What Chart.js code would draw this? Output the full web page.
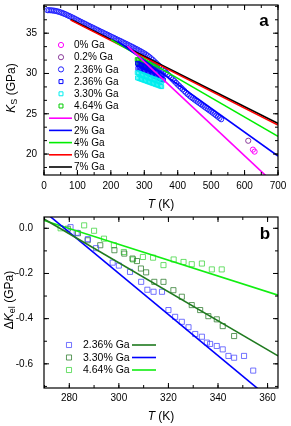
<!DOCTYPE html>
<html>
<head>
<meta charset="utf-8">
<script src="https://cdn.jsdelivr.net/npm/chart.js@4.4.0/dist/chart.umd.min.js"></script>
<style>
  html, body { margin: 0; padding: 0; background: #fff; }
  #wrap { position: relative; width: 291px; height: 426px; }
  canvas { position: absolute; left: 0; }
  #cA { top: 0; }
  #cB { top: 212px; }
</style>
</head>
<body>
<div id="wrap">
  <canvas id="cA" width="291" height="212"></canvas>
  <canvas id="cB" width="291" height="214"></canvas>
</div>
<script>
// ---- panel a : K_S vs T ----
const xTicksA = [0, 100, 200, 300, 400, 500, 600, 700];
const yTicksA = [20, 25, 30, 35];

const labelsA = ['0% Ga', '0.2% Ga', '2.36% Ga', '2.36% Ga', '3.30% Ga', '4.64% Ga',
                 '0% Ga', '2% Ga', '4% Ga', '6% Ga', '7% Ga'];

// 2.36% Ga, circles
const c236T = [10,15,20,25,30,35,40,45,50,55,60,65,70,75,80,85,90,95,100,
  105,110,115,120,125,130,135,140,145,150,155,160,165,170,175,180,185,190,195,200,
  205,210,215,220,225,230,235,240,245,250,255,260,265,270,275,280,285,290,295,300,
  305,310,315,320,325,330,335,340,345,350,355,360,365,370,375,380,385,390,395,400,
  405,410,415,420,425,430,435,440,445,450,455,460,465,470,475,480,485,490,495,500,
  505,510,515,520,525,530];
const c236K = [37.86,37.85,37.85,37.82,37.80,37.76,37.71,37.66,37.58,37.51,37.42,37.34,37.24,37.14,37.05,36.94,36.84,36.73,36.63,
  36.52,36.42,36.31,36.21,36.11,36.00,35.90,35.80,35.70,35.60,35.49,35.40,35.29,35.19,35.10,34.99,34.89,34.80,34.69,34.59,
  34.49,34.40,34.29,34.19,34.09,34.00,33.89,33.79,33.69,33.59,33.48,33.38,33.28,33.17,33.06,32.96,32.84,32.73,32.61,32.49,
  32.36,32.21,32.05,31.88,31.70,31.50,31.31,31.12,30.92,30.72,30.52,30.31,30.10,29.89,29.68,29.47,29.26,29.05,28.84,28.63,
  28.43,28.23,28.03,27.83,27.62,27.43,27.25,27.08,26.92,26.77,26.62,26.47,26.32,26.17,26.02,25.87,25.72,25.57,25.42,25.27,
  25.12,24.96,24.80,24.64,24.48,24.32];

// 0% and 0.2% Ga, circles
const c0T = [625, 630];
const c0K = [20.55, 20.30];
const c02T = [611];
const c02K = [21.65];

// 2.36% Ga, squares
const s236T = [280,284,288,292,296,300,304,308,312,316,320,324,328,332,336,340,344,348,352,356,
  281,285,289,293,297,301,305,309,313,317,321,325,329,333,337,341,345,349,353,357];
const s236K = [31.25,31.17,31.10,31.02,30.94,30.87,30.80,30.71,30.64,30.56,30.49,30.41,30.33,30.26,30.18,30.10,30.03,29.95,29.88,29.80,
  30.62,30.55,30.47,30.40,30.32,30.25,30.17,30.10,30.02,29.95,29.87,29.80,29.72,29.65,29.57,29.50,29.42,29.35,29.27,29.20];

// 3.30% Ga, squares
const s330T = [279,283,287,291,295,299,303,307,311,315,319,323,327,331,335,339,343,347,351,
  280,284,288,292,296,300,304,308,312,316,320,324,328,332,336,340,344,348,352];
const s330K = [30.10,30.04,29.97,29.91,29.85,29.78,29.72,29.66,29.59,29.53,29.46,29.40,29.34,29.27,29.21,29.15,29.08,29.02,28.95,
  29.45,29.39,29.33,29.27,29.21,29.15,29.09,29.03,28.97,28.91,28.85,28.79,28.73,28.67,28.61,28.55,28.49,28.43,28.37];

// 4.64% Ga, squares
const s464T = [279,283,287,291,295,299,303,307,311,315,319,323,327,331,335,339,
  281,285,289,293,297,301,305,309,313,317,321,325,329];
const s464K = [31.72,31.66,31.60,31.53,31.47,31.41,31.34,31.28,31.22,31.15,31.09,31.03,30.96,30.90,30.84,30.77,
  31.30,31.24,31.18,31.11,31.05,30.99,30.92,30.86,30.80,30.73,30.67,30.61,30.54];

// calculated lines (end points)
const fit0T = [250, 700], fit0K = [33.40, 15.90];
const fit2T = [220, 700], fit2K = [33.99, 19.75];
const fit4T = [200, 700], fit4K = [34.20, 22.20];
const fit6T = [80, 700],  fit6K = [36.62, 23.60];
const fit7T = [80, 700],  fit7K = [36.69, 23.80];

// ---- panel b : dK_el vs T ----
const xTicksB = [280, 300, 320, 340, 360];
const yTicksB = [0, -0.2, -0.4, -0.6];
const labelsB = ['2.36% Ga', '3.30% Ga', '4.64% Ga'];

const b236T = [280.5,283,287.5,290.8,297.5,300,304.5,309,311.5,314,317.4,320,322.7,325.4,328.1,330.8,333.5,335.5,336.8,339.5,341.9,344.2,346.5,350.5,354.2];
const b236K = [0.005,-0.02,-0.048,-0.088,-0.152,-0.165,-0.193,-0.237,-0.272,-0.281,-0.281,-0.362,-0.392,-0.414,-0.438,-0.468,-0.480,-0.506,-0.512,-0.521,-0.536,-0.565,-0.573,-0.565,-0.630];
const b330T = [279.4,283.5,287.4,292.5,298.2,302.2,305.5,307.3,308.9,311,314.3,318,322,325.4,329.4,332.8,336.1,339.5,341.9,346.5];
const b330K = [-0.002,-0.022,-0.053,-0.075,-0.097,-0.112,-0.134,-0.145,-0.178,-0.195,-0.237,-0.237,-0.274,-0.303,-0.340,-0.362,-0.389,-0.403,-0.433,-0.477];
const b464T = [276.5,286,290,294,298,302,305.7,309.7,313.8,318,322.1,326.1,329.4,333.5,337.5,341.5];
const b464K = [0.0,0.013,-0.011,-0.046,-0.075,-0.105,-0.138,-0.127,-0.130,-0.163,-0.138,-0.149,-0.159,-0.156,-0.182,-0.182];

const fitDkT = [269.8, 364.2], fitDkK = [0.041, -0.565];
const fitBlT = [269.8, 364.2], fitBlK = [0.075, -0.784];
const fitLgT = [269.8, 364.2], fitLgK = [0.035, -0.296];

// ---------------------------------------------------------------
const FONT = '"Liberation Sans", Arial, Helvetica, sans-serif';
Chart.defaults.font.family = FONT;
Chart.defaults.color = '#000';

const pts = (T, K) => T.map((t, i) => ({ x: t, y: K[i] }));

const marks = (label, T, K, style, r, color, order) => ({
  label, data: pts(T, K), pointStyle: style, pointRadius: r,
  pointBorderColor: color, pointBackgroundColor: 'rgba(0,0,0,0)', pointBorderWidth: 1,
  borderColor: color, showLine: false, order
});

const fit = (label, T, K, color, w) => ({
  label, data: pts(T, K), borderColor: color, borderWidth: w,
  pointRadius: 0, showLine: true, order: 0
});

function drawMark(ctx, style, x, y, r, color) {
  ctx.strokeStyle = color;
  ctx.lineWidth = 1;
  ctx.beginPath();
  if (style === 'rect') {
    const h = r * Math.SQRT1_2;
    ctx.rect(x - h, y - h, 2 * h, 2 * h);
  } else {
    ctx.arc(x, y, r, 0, Math.PI * 2);
  }
  ctx.stroke();
}

function drawRich(ctx, segs, cx, cy, rot) {
  ctx.save();
  ctx.translate(cx, cy);
  if (rot) ctx.rotate(-Math.PI / 2);
  let w = 0;
  segs.forEach(s => { ctx.font = s.f; w += ctx.measureText(s.t).width; });
  let x = -w / 2;
  ctx.textBaseline = 'middle';
  ctx.textAlign = 'left';
  ctx.fillStyle = '#000';
  segs.forEach(s => {
    ctx.font = s.f;
    ctx.fillText(s.t, x, s.dy || 0);
    x += ctx.measureText(s.t).width;
  });
  ctx.restore();
}

// frame with inward ticks on all four sides, in-plot legend, titles
const deco = {
  id: 'deco',
  afterDatasetsDraw(chart, args, o) {
    const { ctx, chartArea: a } = chart;
    const sx = chart.scales.x, sy = chart.scales.y;
    ctx.save();
    ctx.strokeStyle = '#000';
    ctx.lineWidth = 1.2;
    ctx.strokeRect(a.left, a.top, a.right - a.left, a.bottom - a.top);

    const tick = (s, v, len) => {
      const p = s.getPixelForValue(v);
      ctx.beginPath();
      if (s.isHorizontal()) {
        ctx.moveTo(p, a.bottom); ctx.lineTo(p, a.bottom - len);
        ctx.moveTo(p, a.top); ctx.lineTo(p, a.top + len);
      } else {
        ctx.moveTo(a.left, p); ctx.lineTo(a.left + len, p);
        ctx.moveTo(a.right, p); ctx.lineTo(a.right - len, p);
      }
      ctx.stroke();
    };
    ctx.lineWidth = 1;
    [[sx, o.xMinor], [sy, o.yMinor]].forEach(([s, step]) => {
      s.ticks.forEach(t => tick(s, t.value, 5));
      const first = Math.ceil(s.min / step - 1e-9) * step;
      for (let v = first; v <= s.max + 1e-9; v += step) tick(s, v, 3);
    });

    // legend
    const L = o.legend;
    ctx.font = L.font + 'px ' + FONT;
    ctx.textBaseline = 'middle';
    ctx.textAlign = 'left';
    L.rows.forEach((r, i) => {
      const y = L.y + i * L.dy;
      const ds = chart.data.datasets;
      const txt = ds[r.pt != null ? r.pt : r.line].label;
      if (r.pt != null) {
        const d = ds[r.pt];
        drawMark(ctx, d.pointStyle, L.mx, y, d.pointRadius, d.pointBorderColor);
      }
      if (r.line != null) {
        const d = ds[r.line];
        ctx.strokeStyle = d.borderColor;
        ctx.lineWidth = d.borderWidth;
        ctx.beginPath();
        ctx.moveTo(L.lx[0], y); ctx.lineTo(L.lx[1], y);
        ctx.stroke();
      }
      ctx.fillStyle = '#000';
      ctx.fillText(txt, L.x, y + 0.5);
    });

    // panel letter and axis titles
    ctx.font = 'bold 17px ' + FONT;
    ctx.textAlign = 'center';
    ctx.fillText(o.letter.t, o.letter.x, o.letter.y);
    drawRich(ctx, o.xTitle.segs, o.xTitle.x, o.xTitle.y, false);
    drawRich(ctx, o.yTitle.segs, o.yTitle.x, o.yTitle.y, true);
    ctx.restore();
  }
};

const axisX = (min, max, ticks, h, pad) => ({
  type: 'linear', min, max,
  afterBuildTicks: s => { s.ticks = ticks.map(v => ({ value: v })); },
  afterFit: s => { s.height = h; s.paddingLeft = 0; s.paddingRight = 0; },
  grid: { display: false, drawTicks: false },
  border: { display: false },
  ticks: { padding: pad, font: { size: 10 }, color: '#000', maxRotation: 0, autoSkip: false }
});

const axisY = (min, max, ticks, pad, fmt) => ({
  type: 'linear', min, max,
  afterBuildTicks: s => { s.ticks = ticks.map(v => ({ value: v })); },
  afterFit: s => { s.width = 44; s.paddingTop = 0; s.paddingBottom = 0; },
  grid: { display: false, drawTicks: false },
  border: { display: false },
  ticks: { padding: pad, font: { size: 10 }, color: '#000', callback: fmt }
});

const t12 = '12px ' + FONT, i12 = 'italic 12px ' + FONT, s9 = '9px ' + FONT;

// ---- chart a ----
const dsA = [
  fit(labelsA[6], fit0T, fit0K, '#ff00ff', 1.6),
  fit(labelsA[7], fit2T, fit2K, '#0000ff', 1.6),
  fit(labelsA[8], fit4T, fit4K, '#00ee00', 1.6),
  fit(labelsA[9], fit6T, fit6K, '#ff0000', 1.6),
  fit(labelsA[10], fit7T, fit7K, '#000000', 1.6),
  marks(labelsA[0], c0T, c0K, 'circle', 2.6, '#ff00ff', 1),
  marks(labelsA[1], c02T, c02K, 'circle', 2.6, '#8a3a9a', 1),
  marks(labelsA[2], c236T, c236K, 'circle', 2.6, '#2222ff', 1),
  marks(labelsA[3], s236T, s236K, 'rect', 2.8, '#0000ff', 3),
  marks(labelsA[4], s330T, s330K, 'rect', 2.8, '#00eeee', 2),
  marks(labelsA[5], s464T, s464K, 'rect', 2.8, '#00cc00', 4)
];

new Chart(document.getElementById('cA'), {
  type: 'scatter',
  data: { datasets: dsA },
  options: {
    responsive: false, animation: false,
    layout: { padding: { top: 5, right: 13, left: 0, bottom: 0 } },
    scales: {
      x: axisX(0, 700, xTicksA, 37, 5),
      y: axisY(17.4, 38.5, yTicksA, 7, v => String(v))
    },
    plugins: {
      legend: { display: false }, tooltip: { enabled: false },
      deco: {
        xMinor: 50, yMinor: 5 / 3,
        legend: {
          x: 74, y: 45, dy: 12.2, mx: 61, lx: [49, 72], font: 10,
          rows: [{ pt: 5 }, { pt: 6 }, { pt: 7 }, { pt: 8 }, { pt: 9 }, { pt: 10 },
                 { line: 0 }, { line: 1 }, { line: 2 }, { line: 3 }, { line: 4 }]
        },
        letter: { t: 'a', x: 264, y: 21 },
        xTitle: { x: 161, y: 205, segs: [{ t: 'T', f: i12 }, { t: ' (K)', f: t12 }] },
        yTitle: { x: 12, y: 88, segs: [{ t: 'K', f: i12 }, { t: 'S', f: s9, dy: 3 }, { t: ' (GPa)', f: t12 }] }
      }
    }
  },
  plugins: [deco]
});

// ---- chart b ----
const dsB = [
  fit('fit 1', fitDkT, fitDkK, '#1f7a1f', 1.6),
  fit('fit 2', fitBlT, fitBlK, '#0000ff', 1.6),
  fit('fit 3', fitLgT, fitLgK, '#11ee11', 1.6),
  marks(labelsB[0], b236T, b236K, 'rect', 3.6, 'rgba(70,70,255,0.75)', 1),
  marks(labelsB[1], b330T, b330K, 'rect', 3.6, 'rgba(40,120,40,0.75)', 1),
  marks(labelsB[2], b464T, b464K, 'rect', 3.6, 'rgba(70,215,70,0.8)', 1)
];

new Chart(document.getElementById('cB'), {
  type: 'scatter',
  data: { datasets: dsB },
  options: {
    responsive: false, animation: false,
    layout: { padding: { top: 5, right: 13, left: 0, bottom: 0 } },
    scales: {
      x: axisX(269.8, 364.2, xTicksB, 38, 4),
      y: axisY(-0.707, 0.05, yTicksB, 11, v => v.toFixed(1))
    },
    plugins: {
      legend: { display: false }, tooltip: { enabled: false },
      deco: {
        xMinor: 10, yMinor: 0.1,
        legend: {
          x: 83, y: 133, dy: 12.5, mx: 69, lx: [132, 156], font: 10.5,
          rows: [{ pt: 3, line: 0 }, { pt: 4, line: 1 }, { pt: 5, line: 2 }]
        },
        letter: { t: 'b', x: 265, y: 22 },
        xTitle: { x: 161, y: 205, segs: [{ t: 'T', f: i12 }, { t: ' (K)', f: t12 }] },
        yTitle: { x: 10, y: 88, segs: [{ t: '\u0394', f: t12 }, { t: 'K', f: i12 }, { t: 'el', f: s9, dy: 3 }, { t: ' (GPa)', f: t12 }] }
      }
    }
  },
  plugins: [deco]
});
</script>
</body>
</html>
